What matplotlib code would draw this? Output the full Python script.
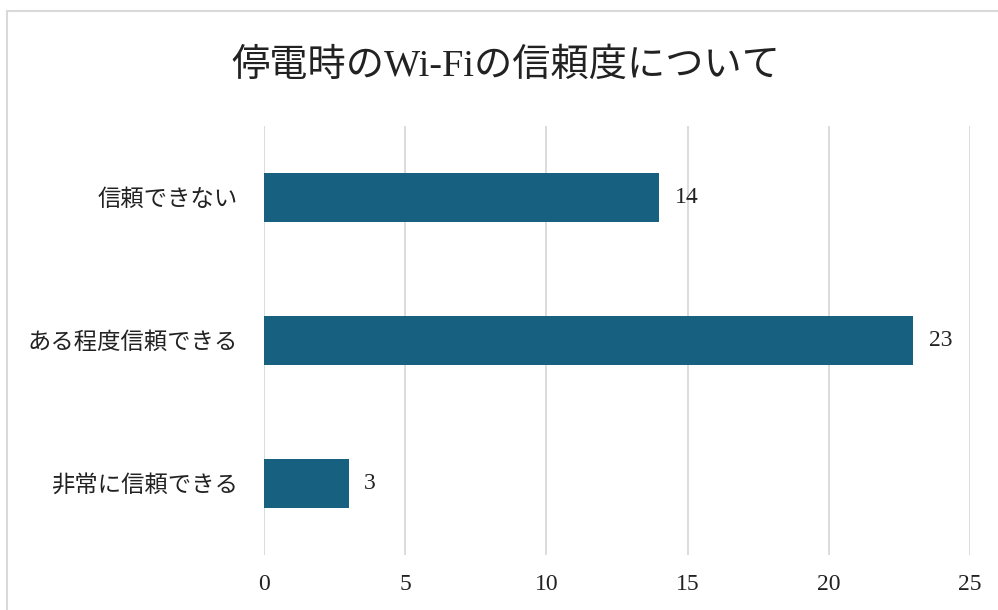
import matplotlib
matplotlib.use("Agg")
import matplotlib.pyplot as plt
from matplotlib.patches import Rectangle

# data
categories = ["非常に信頼できる", "ある程度信頼できる", "信頼できない"]
counts = [3, 23, 14]
x_ticks = [0, 5, 10, 15, 20, 25]
title = "停電時のWi-Fiの信頼度について"

bar_color = "#17607F"
grid_color = "#D9D9D9"
fonts = ["Liberation Serif", "Noto Sans CJK JP", "DejaVu Sans"]
plt.rcParams["font.family"] = fonts

fig = plt.figure(figsize=(9.98, 6.10), dpi=100)
ax = fig.add_axes([0.2645, 0.0902, 0.7074, 0.7033])

y_pos = list(range(len(categories)))
ax.barh(y_pos, counts, height=0.343, color=bar_color, zorder=3)
for y, v in zip(y_pos, counts):
    ax.annotate(str(v), xy=(v, y), xytext=(11, 0), textcoords="offset points",
                va="center", ha="left", fontsize=17, color="#222222")

ax.set_xlim(0, 25)
ax.set_ylim(-0.5, 2.5)
ax.set_xticks(x_ticks)
ax.set_xticklabels([str(t) for t in x_ticks], fontsize=17, color="#222222")
ax.set_yticks(y_pos)
ax.set_yticklabels(categories, fontsize=16.8, color="#222222")
ax.tick_params(axis="both", length=0)
ax.tick_params(axis="x", pad=14)
ax.tick_params(axis="y", pad=19)
ax.grid(axis="x", color=grid_color, linewidth=1.3, zorder=0)
for s in ax.spines.values():
    s.set_visible(False)

fig.text(0.507, 0.892, title, ha="center", va="center", fontsize=27.5, color="#222222")

border = Rectangle((7 / 998, -0.1), 1.2, 1.1 - 11 / 610, transform=fig.transFigure,
                   fill=False, edgecolor=grid_color, linewidth=1.5, clip_on=False)
fig.patches.append(border)

fig.savefig("out.png", dpi=100)
